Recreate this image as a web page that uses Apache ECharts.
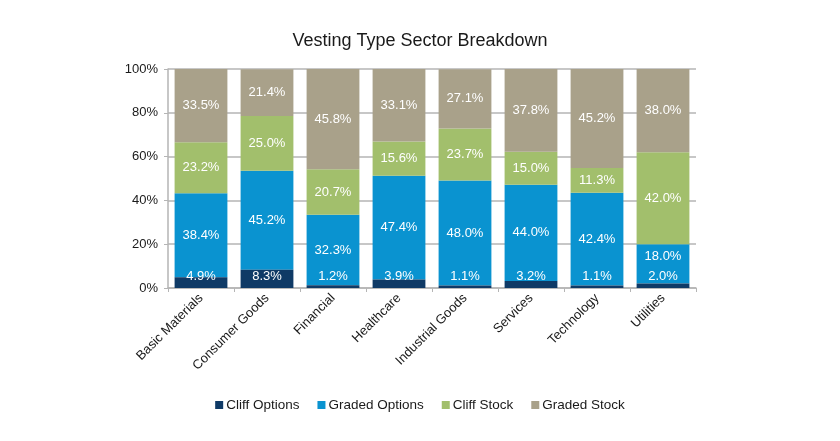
<!DOCTYPE html>
<html><head><meta charset="utf-8">
<script src="https://cdn.jsdelivr.net/npm/echarts@6/dist/echarts.min.js"></script>
<style>html,body{margin:0;padding:0;background:#fff}#c{width:840px;height:441px}</style>
</head><body><div id="c"></div>
<script>
var categories = ['Basic Materials','Consumer Goods','Financial','Healthcare','Industrial Goods','Services','Technology','Utilities'];
var cliffOptions  = [4.9, 8.3, 1.2, 3.9, 1.1, 3.2, 1.1, 2.0];
var gradedOptions = [38.4, 45.2, 32.3, 47.4, 48.0, 44.0, 42.4, 18.0];
var cliffStock    = [23.2, 25.0, 20.7, 15.6, 23.7, 15.0, 11.3, 42.0];
var gradedStock   = [33.5, 21.4, 45.8, 33.1, 27.1, 37.8, 45.2, 38.0];
var seriesNames = ['Cliff Options','Graded Options','Cliff Stock','Graded Stock'];
var yTicks = [0, 20, 40, 60, 80, 100];

var colors = ['#0f3a66', '#0a93d0', '#a2bf6c', '#a9a18a'];
var font = '"Liberation Sans", Arial, sans-serif';
var lblFmt = function(p){ return p.value.toFixed(1) + '%'; };
var baseLabel = {show:true, color:'#fff', fontSize:13, fontFamily:font, formatter:lblFmt};

function mk(name, data, idx){
  var label = Object.assign({}, baseLabel, {position:'inside'});
  if (idx === 0) label = Object.assign({}, baseLabel, {position:'insideBottom', distance:5});
  var d = data.map(function(v, i){
    if (idx === 1 && v < 20) return {value:v, label:{offset:[0,-7]}};
    return v;
  });
  return {name:name, type:'bar', stack:'all', data:d, barCategoryGap:'20%',
    itemStyle:{color:colors[idx]}, label:label, z: idx===0 ? 3 : 2};
}

var chart = echarts.init(document.getElementById('c'));
chart.setOption({
  animation:false,
  color: colors,
  title:{text:'Vesting Type Sector Breakdown', left:415, top:27, textAlign:'center',
    textStyle:{fontFamily:font, fontSize:18, fontWeight:'normal', color:'#1a1a1a'}},
  grid:{left:168, right:144, top:69, bottom:153},
  legend:{bottom:24, left:'center', itemWidth:8, itemHeight:8, itemGap:18, icon:'rect',
    textStyle:{fontFamily:font, fontSize:13.5, color:'#1a1a1a', padding:[0,0,0,-2]}, data:seriesNames},
  xAxis:{type:'category', data:categories,
    axisLine:{lineStyle:{color:'#b5b5b5', width:1.5}},
    axisTick:{show:true, length:4, lineStyle:{color:'#b5b5b5'}},
    axisLabel:{rotate:45, fontFamily:font, fontSize:13, color:'#1a1a1a', margin:8, interval:0}},
  yAxis:{type:'value', min:0, max:100, interval:20,
    axisLine:{show:true, lineStyle:{color:'#b5b5b5', width:1.5}},
    axisTick:{show:true, length:4, lineStyle:{color:'#b5b5b5'}},
    splitLine:{lineStyle:{color:'#b5b5b5', width:1.5}},
    axisLabel:{fontFamily:font, fontSize:13, color:'#1a1a1a', margin:10,
      formatter:function(v){ return yTicks.indexOf(v) >= 0 ? v + '%' : ''; }}},
  series:[
    mk(seriesNames[0], cliffOptions, 0),
    mk(seriesNames[1], gradedOptions, 1),
    mk(seriesNames[2], cliffStock, 2),
    mk(seriesNames[3], gradedStock, 3)
  ]
});
</script></body></html>
